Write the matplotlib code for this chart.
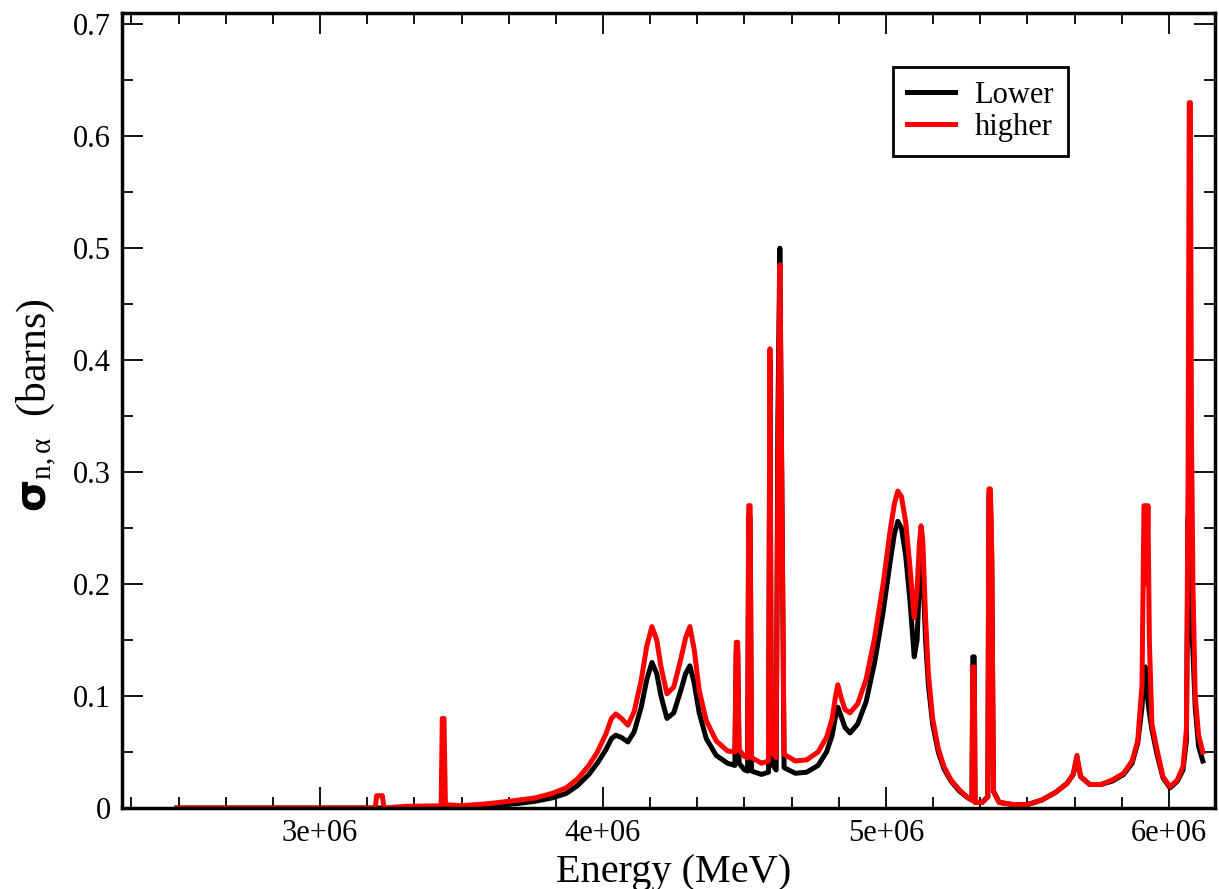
import numpy as np
import matplotlib
matplotlib.use("Agg")
import matplotlib.pyplot as plt
from matplotlib.ticker import MultipleLocator, FuncFormatter

plt.rcParams['font.family'] = ['Liberation Serif', 'DejaVu Serif']
plt.rcParams['mathtext.fontset'] = 'custom'
plt.rcParams['mathtext.rm'] = 'Liberation Serif'
plt.rcParams['mathtext.it'] = 'Liberation Serif:italic'
plt.rcParams['mathtext.bf'] = 'DejaVu Sans:bold'

# energy grid (eV)
energy = [
    2.494e6, 2.800e6, 3.100e6, 3.195e6, 3.200e6, 3.220e6, 3.226e6, 3.300e6,
    3.428e6, 3.432e6, 3.438e6, 3.443e6, 3.500e6, 3.600e6, 3.700e6, 3.760e6,
    3.820e6, 3.870e6, 3.910e6, 3.950e6, 3.980e6, 4.010e6, 4.030e6, 4.045e6,
    4.065e6, 4.088e6, 4.110e6, 4.135e6, 4.155e6, 4.173e6, 4.190e6, 4.205e6,
    4.226e6, 4.250e6, 4.275e6, 4.292e6, 4.307e6, 4.322e6, 4.340e6, 4.365e6,
    4.400e6, 4.440e6, 4.466e6, 4.471e6, 4.476e6, 4.481e6, 4.500e6, 4.511e6,
    4.515e6, 4.520e6, 4.525e6, 4.560e6, 4.585e6, 4.590e6, 4.595e6, 4.612e6,
    4.618e6, 4.625e6, 4.632e6, 4.640e6, 4.680e6, 4.720e6, 4.760e6, 4.790e6,
    4.810e6, 4.822e6, 4.830e6, 4.840e6, 4.855e6, 4.873e6, 4.900e6, 4.930e6,
    4.960e6, 4.990e6, 5.015e6, 5.030e6, 5.042e6, 5.055e6, 5.070e6, 5.085e6,
    5.100e6, 5.110e6, 5.118e6, 5.124e6, 5.130e6, 5.140e6, 5.150e6, 5.165e6,
    5.185e6, 5.205e6, 5.230e6, 5.260e6, 5.290e6, 5.304e6, 5.307e6, 5.312e6,
    5.315e6, 5.340e6, 5.360e6, 5.364e6, 5.369e6, 5.374e6, 5.380e6, 5.400e6,
    5.450e6, 5.500e6, 5.550e6, 5.600e6, 5.640e6, 5.662e6, 5.675e6, 5.688e6,
    5.720e6, 5.760e6, 5.800e6, 5.840e6, 5.870e6, 5.890e6, 5.905e6, 5.912e6,
    5.917e6, 5.921e6, 5.926e6, 5.931e6, 5.940e6, 5.958e6, 5.979e6, 6.004e6,
    6.030e6, 6.050e6, 6.062e6, 6.068e6, 6.072e6, 6.076e6, 6.080e6, 6.085e6,
    6.093e6, 6.105e6, 6.120e6,
]

sigma_lower = [
    0.000, 0.000, 0.000, 0.000, 0.000, 0.000, 0.000, -0.001,
    -0.001, 0.020, 0.010, 0.001, 0.001, 0.002, 0.004, 0.006,
    0.009, 0.013, 0.020, 0.030, 0.040, 0.052, 0.062, 0.065,
    0.063, 0.059, 0.068, 0.090, 0.115, 0.130, 0.120, 0.100,
    0.080, 0.085, 0.105, 0.120, 0.127, 0.112, 0.085, 0.062,
    0.047, 0.040, 0.038, 0.140, 0.140, 0.040, 0.034, 0.033,
    0.260, 0.260, 0.033, 0.030, 0.032, 0.400, 0.040, 0.034,
    0.345, 0.500, 0.290, 0.036, 0.031, 0.032, 0.038, 0.050,
    0.065, 0.082, 0.090, 0.083, 0.072, 0.067, 0.075, 0.095,
    0.130, 0.175, 0.220, 0.245, 0.256, 0.250, 0.225, 0.185,
    0.135, 0.150, 0.200, 0.240, 0.215, 0.150, 0.110, 0.075,
    0.050, 0.035, 0.024, 0.015, 0.009, 0.007, 0.135, 0.135,
    0.005, 0.005, 0.010, 0.280, 0.280, 0.220, 0.015, 0.005,
    0.003, 0.003, 0.007, 0.014, 0.022, 0.030, 0.045, 0.028,
    0.021, 0.021, 0.024, 0.030, 0.040, 0.058, 0.090, 0.120,
    0.126, 0.110, 0.095, 0.085, 0.070, 0.048, 0.027, 0.018,
    0.024, 0.034, 0.060, 0.260, 0.200, 0.180, 0.160, 0.140,
    0.090, 0.055, 0.042,
]

sigma_higher = [
    0.000, 0.000, 0.000, 0.000, 0.011, 0.011, 0.000, 0.0015,
    0.002, 0.080, 0.080, 0.003, 0.002, 0.004, 0.007, 0.009,
    0.013, 0.018, 0.026, 0.038, 0.050, 0.066, 0.080, 0.084,
    0.080, 0.074, 0.086, 0.114, 0.145, 0.162, 0.150, 0.126,
    0.102, 0.108, 0.133, 0.152, 0.162, 0.142, 0.105, 0.078,
    0.060, 0.051, 0.050, 0.148, 0.148, 0.052, 0.046, 0.045,
    0.270, 0.270, 0.045, 0.040, 0.042, 0.410, 0.050, 0.045,
    0.300, 0.485, 0.290, 0.048, 0.042, 0.043, 0.050, 0.063,
    0.080, 0.100, 0.110, 0.100, 0.088, 0.085, 0.093, 0.115,
    0.152, 0.200, 0.248, 0.272, 0.283, 0.278, 0.255, 0.215,
    0.170, 0.195, 0.235, 0.252, 0.240, 0.170, 0.120, 0.080,
    0.053, 0.037, 0.025, 0.016, 0.009, 0.007, 0.126, 0.126,
    0.005, 0.005, 0.010, 0.285, 0.285, 0.230, 0.015, 0.005,
    0.003, 0.003, 0.007, 0.014, 0.022, 0.030, 0.047, 0.028,
    0.021, 0.021, 0.025, 0.031, 0.042, 0.060, 0.110, 0.270,
    0.270, 0.200, 0.270, 0.150, 0.075, 0.052, 0.028, 0.019,
    0.025, 0.037, 0.070, 0.300, 0.630, 0.630, 0.330, 0.200,
    0.100, 0.065, 0.050,
]

series_labels = ["Lower", "higher"]
series_colors = ["black", "red"]

fig = plt.figure(figsize=(12.19, 8.89), dpi=100)
ax = fig.add_axes([122 / 1219, 1 - 808 / 889, (1215 - 122) / 1219, (808 - 13) / 889])

for vals, lab, col in zip([sigma_lower, sigma_higher], series_labels, series_colors):
    ax.plot(energy, vals, color=col, lw=3.6, label=lab)

ax.set_xlim(2.30e6, 6.163e6)
ax.set_ylim(0, 0.71)

ax.xaxis.set_major_locator(MultipleLocator(1e6))
ax.xaxis.set_minor_locator(MultipleLocator(1e6 / 6))
ax.yaxis.set_major_locator(MultipleLocator(0.1))
ax.yaxis.set_minor_locator(MultipleLocator(0.05))
ax.xaxis.set_major_formatter(FuncFormatter(lambda v, p: f"{v:.0e}"))
ax.yaxis.set_major_formatter(FuncFormatter(lambda v, p: f"{v:g}"))

ax.tick_params(which='both', direction='in', top=True, right=True,
               labelsize=22, width=1.3, colors='black')
ax.tick_params(which='major', length=15, pad=8)
ax.tick_params(which='minor', length=8)
for s in ax.spines.values():
    s.set_linewidth(2.5)

leg = ax.legend(loc='upper left', bbox_to_anchor=(0.7054, 0.932), fontsize=22,
                handlelength=1.57, labelspacing=0.1, borderpad=0.45,
                handletextpad=0.65, borderaxespad=0, fancybox=False, framealpha=1)
leg.get_frame().set_edgecolor('black')
leg.get_frame().set_linewidth(2)

fig.text(674 / 1219, 1 - 882 / 889, "Energy (MeV)", fontsize=29,
         ha='center', va='baseline')
fig.text(37 / 1219, 1 - 405 / 889, r"$\mathbf{\sigma}_{\mathrm{n,\alpha}}$  (barns)",
         fontsize=30, rotation=90, ha='center', va='center')

fig.savefig("out.png", dpi=100)
